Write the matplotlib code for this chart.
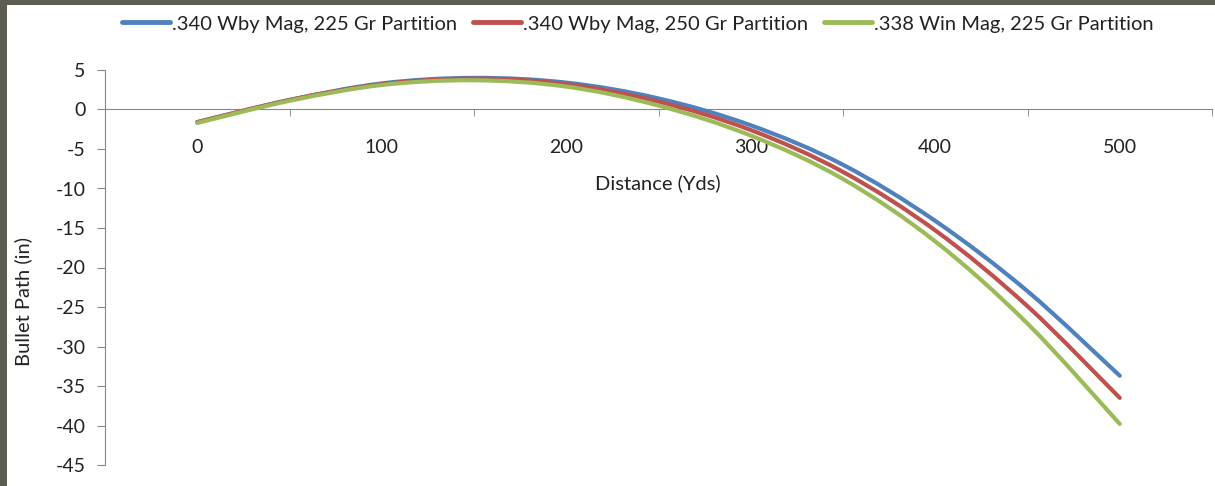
import numpy as np
import matplotlib
matplotlib.use("Agg")
import matplotlib.pyplot as plt
from matplotlib.path import Path
from matplotlib.patches import PathPatch, Rectangle
from matplotlib.lines import Line2D

plt.rcParams['font.family'] = ['Lato', 'DejaVu Sans']

# distance (yds) and bullet path (in)
distance = [0, 50, 100, 150, 200, 250, 300, 350, 400, 450, 500]
wby_225 = [-1.6, 1.2, 3.3, 4.0, 3.4, 1.4, -2.0, -7.0, -14.1, -23.0, -33.7]
wby_250 = [-1.6, 1.2, 3.2, 3.9, 3.2, 1.0, -2.6, -7.9, -15.3, -24.9, -36.5]
win_225 = [-1.7, 1.1, 3.1, 3.7, 2.9, 0.5, -3.3, -8.8, -16.7, -27.1, -39.8]

series = [
    ('.340 Wby Mag, 225 Gr Partition', wby_225, '#4F81BD'),
    ('.340 Wby Mag, 250 Gr Partition', wby_250, '#C0504D'),
    ('.338 Win Mag, 225 Gr Partition', win_225, '#9BBB59'),
]
x_labels = [0, 100, 200, 300, 400, 500]
x_minor = [50, 150, 250, 350, 450, 550]
y_ticks = list(range(5, -50, -5))

W, H = 1215, 486
TXT = '#222222'
AXC = '#868686'


def smooth_path(xs, ys):
    # excel style smoothed line: bezier segments through every point
    P = np.column_stack([xs, ys]).astype(float)
    n = len(P)
    verts = [P[0]]
    codes = [Path.MOVETO]
    for i in range(n - 1):
        a = P[i - 1] if i > 0 else P[i]
        d = P[i + 2] if i + 2 < n else P[i + 1]
        c1 = P[i] + (P[i + 1] - a) / 6.0
        c2 = P[i + 1] - (d - P[i]) / 6.0
        verts += [c1, c2, P[i + 1]]
        codes += [Path.CURVE4] * 3
    return Path(verts, codes)


fig = plt.figure(figsize=(W / 100, H / 100), dpi=100, facecolor='white')
ax = fig.add_axes([105 / W, 1 - 465 / H, (1212 - 105) / W, (465 - 70) / H])

handles = []
for name, vals, col in series:
    ax.add_patch(PathPatch(smooth_path(distance, vals), fill=False,
                           edgecolor=col, lw=3.0, capstyle='round',
                           joinstyle='round', zorder=3))
    handles.append(Line2D([], [], color=col, lw=3.5, solid_capstyle='round',
                          label=name))

ax.set_xlim(-50, 550)
ax.set_ylim(-45, 5)

for s in ['top', 'right']:
    ax.spines[s].set_visible(False)
ax.spines['left'].set_color(AXC)
ax.spines['bottom'].set_color(AXC)
ax.spines['bottom'].set_position(('data', 0))

ax.set_yticks(y_ticks)
ax.set_yticklabels([str(v) for v in y_ticks])
ax.tick_params(axis='y', direction='out', length=6, color=AXC,
               labelsize=14, labelcolor=TXT, pad=8)

ax.set_xticks(x_labels)
ax.set_xticklabels([str(v) for v in x_labels])
ax.set_xticks(x_minor, minor=True)
ax.tick_params(axis='x', which='major', length=0, labelsize=14,
               labelcolor=TXT, pad=21)
ax.tick_params(axis='x', which='minor', direction='out', length=5, color=AXC)

fig.text(658 / W, 1 - 183 / H, 'Distance (Yds)', ha='center', va='center',
         fontsize=14.5, color=TXT)
fig.text(23 / W, 1 - 302 / H, 'Bullet Path (in)', ha='center', va='center',
         rotation=90, fontsize=14.5, color=TXT)

fig.legend(handles=handles, loc='center', bbox_to_anchor=(638 / W, 1 - 24 / H),
           ncol=3, frameon=False, fontsize=14.5, handlelength=2.35,
           handletextpad=0.12, columnspacing=0.8, labelcolor=TXT)

# dark frame along the left and top edge
border = '#5c5c52'
fig.patches.append(Rectangle((0, 0), 7 / W, 1, transform=fig.transFigure,
                             facecolor=border, edgecolor='none', zorder=10))
fig.patches.append(Rectangle((0, 1 - 5 / H), 1, 5 / H, transform=fig.transFigure,
                             facecolor=border, edgecolor='none', zorder=10))

fig.savefig('out.png', dpi=100, facecolor='white')
